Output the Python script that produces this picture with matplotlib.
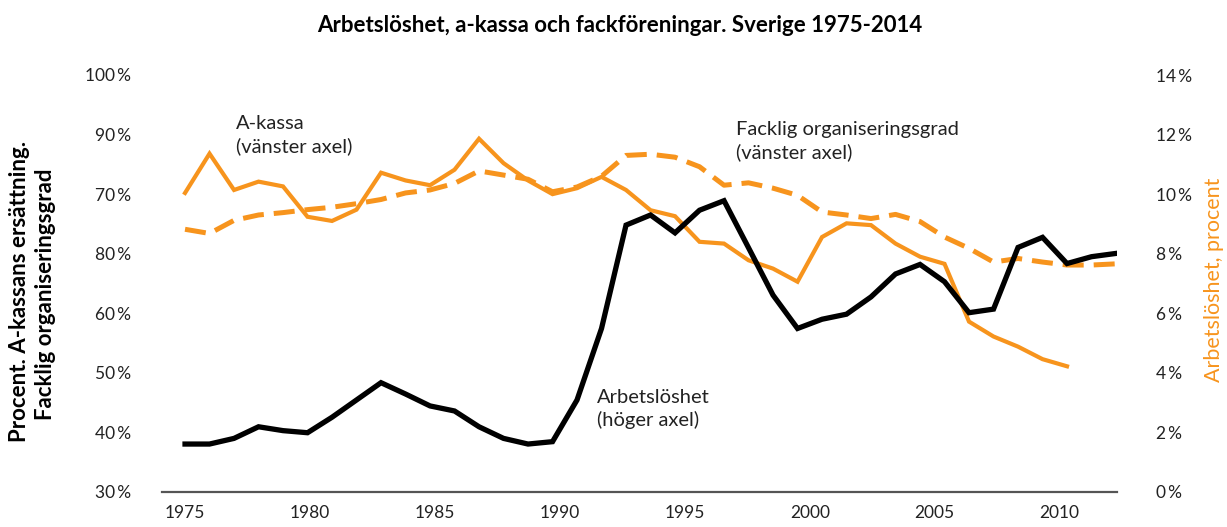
import matplotlib
matplotlib.use("Agg")
import matplotlib.pyplot as plt

plt.rcParams['font.family'] = ['Lato', 'DejaVu Sans']

# ---- data ----
years_u = list(range(1975, 2014))
unemployment = [1.61, 1.61, 1.80, 2.19, 2.06, 1.99, 2.51, 3.09, 3.67, 3.29,
                2.89, 2.72, 2.19, 1.80, 1.61, 1.69, 3.09, 5.49, 8.96, 9.30,
                8.70, 9.46, 9.78, 8.20, 6.61, 5.49, 5.80, 5.97, 6.55, 7.32,
                7.64, 7.06, 6.02, 6.14, 8.21, 8.55, 7.67, 7.90, 8.01]

years_a = list(range(1975, 2012))
akassa = [80.2, 86.8, 80.7, 82.1, 81.3, 76.2, 75.5, 77.4, 83.6, 82.3,
          81.5, 84.1, 89.3, 85.2, 82.3, 80.0, 81.0, 82.9, 80.7, 77.3,
          76.3, 72.0, 71.7, 68.9, 67.5, 65.3, 72.8, 75.1, 74.8, 71.7,
          69.5, 68.3, 58.6, 56.1, 54.4, 52.3, 51.1]

years_f = list(range(1975, 2014))
facklig = [74.1, 73.4, 75.6, 76.5, 76.9, 77.4, 77.8, 78.4, 79.1, 80.2,
           80.7, 81.8, 83.9, 83.2, 82.5, 80.4, 81.2, 83.0, 86.5, 86.7,
           86.2, 84.6, 81.5, 81.9, 81.0, 79.8, 77.0, 76.5, 75.9, 76.6,
           75.4, 72.8, 70.9, 68.6, 69.2, 68.6, 68.1, 68.1, 68.3]

x_tick_years = [1975, 1980, 1985, 1990, 1995, 2000, 2005, 2010]
left_ticks = [100, 90, 80, 70, 60, 50, 40, 30]
left_tick_labels = ["100\u2009%", "90\u2009%", "70\u2009%", "80\u2009%",
                    "60\u2009%", "50\u2009%", "40\u2009%", "30\u2009%"]
right_ticks = [14, 12, 10, 8, 6, 4, 2, 0]
right_tick_labels = [f"{v}\u2009%" for v in right_ticks]

title = "Arbetslöshet, a-kassa och fackföreningar. Sverige 1975-2014"

# ---- style ----
ORANGE = "#F7941D"
TXT = "#222222"
W, H = 1227, 527

fig = plt.figure(figsize=(W / 100, H / 100), dpi=100)
ax = fig.add_axes([162 / W, (H - 492) / H, (1117 - 162) / W, (492 - 75) / H])
ax2 = ax.twinx()

ax.plot(years_a, akassa, color=ORANGE, lw=3.0, solid_joinstyle='miter', zorder=3)
ax.plot(years_f, facklig, color=ORANGE, lw=3.6, ls=(0, (4.2, 2.0)), zorder=2)
ax2.plot(years_u, unemployment, color="black", lw=3.8, solid_joinstyle='miter', zorder=4)

ax.set_xlim(1974.06, 2013.04)
ax.set_ylim(30, 100)
ax2.set_ylim(0, 14)

# tick label positions follow the label layout of the reference
tick_pos = [1975 + (y - 1975) * 1.02 for y in x_tick_years]
ax.set_xticks(tick_pos)
ax.set_xticklabels([str(y) for y in x_tick_years])

ax.set_yticks(left_ticks)
ax.set_yticklabels(left_tick_labels)
ax2.set_yticks(right_ticks)
ax2.set_yticklabels(right_tick_labels)

for a in (ax, ax2):
    for s in ("top", "left", "right", "bottom"):
        a.spines[s].set_visible(False)
ax.spines["bottom"].set_visible(True)
ax.spines["bottom"].set_color("#555555")
ax.spines["bottom"].set_linewidth(1.6)

ax.tick_params(axis='x', length=0, pad=9, labelsize=12.5, labelcolor=TXT)
ax.tick_params(axis='y', length=0, pad=22, labelsize=12.5, labelcolor=TXT)
ax2.tick_params(axis='y', length=0, pad=28, labelsize=12.5, labelcolor=TXT)

fig.text(20 / W, 1 - 291 / H, "Procent. A-kassans ersättning.",
         rotation=90, ha='center', va='center', fontsize=16,
         fontweight='bold', color="black")
fig.text(46 / W, 1 - 294 / H, "Facklig organiseringsgrad",
         rotation=90, ha='center', va='center', fontsize=16,
         fontweight='bold', color="black")
fig.text(1214 / W, 1 - 280 / H, "Arbetslöshet, procent", rotation=90,
         ha='center', va='center', fontsize=15.5, color=ORANGE)

fig.text(0.505, 1 - 25 / H, title, ha='center', va='center',
         fontsize=16, fontweight='bold', color="black")

ax.text(1977.08, 89.9, "A-kassa\n(vänster axel)", ha='left', va='center',
        fontsize=14.5, color=TXT, linespacing=1.3)
ax.text(1997.5, 88.9, "Facklig organiseringsgrad\n(vänster axel)", ha='left',
        va='center', fontsize=14.5, color=TXT, linespacing=1.3)
ax.text(1991.8, 43.9, "Arbetslöshet\n(höger axel)", ha='left', va='center',
        fontsize=14.5, color=TXT, linespacing=1.3)

fig.savefig("out.png", dpi=100)
